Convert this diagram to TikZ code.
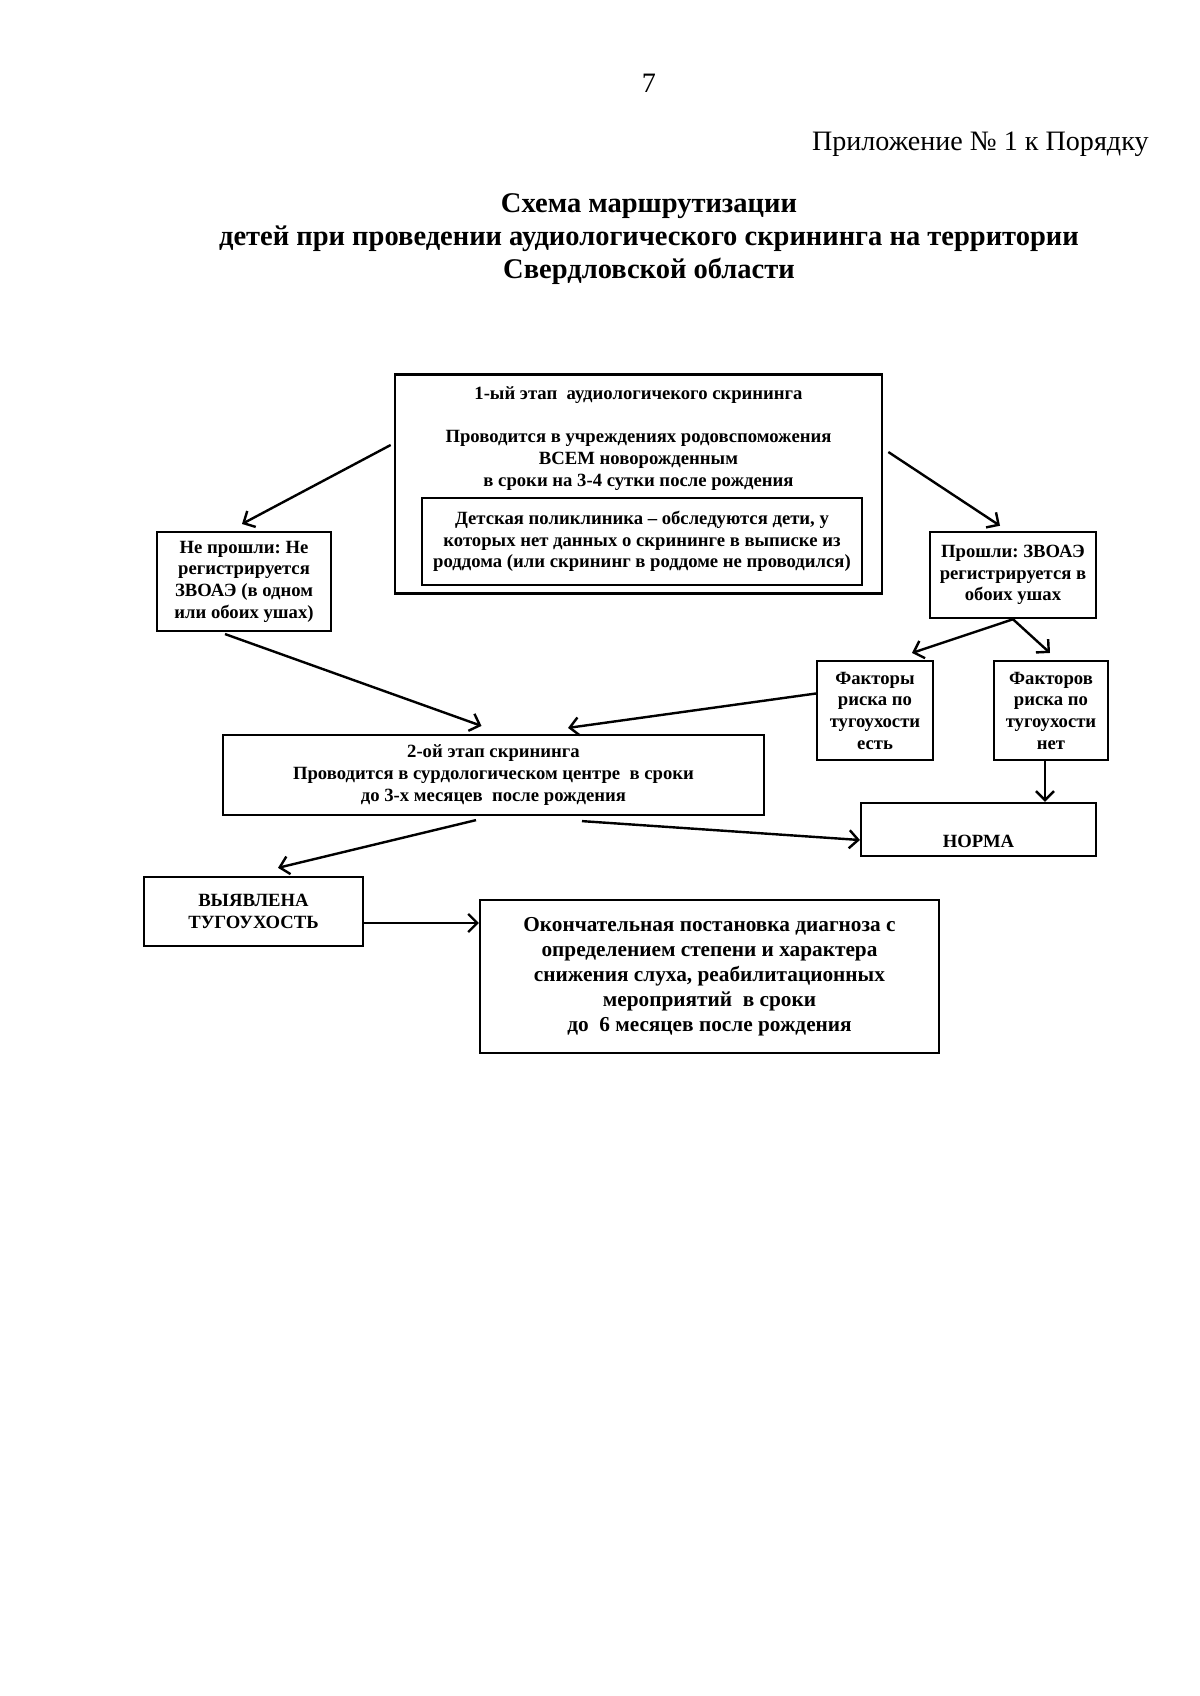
\documentclass[tikz,border=0pt]{standalone}
\usepackage{fontspec}
\setmainfont{Liberation Serif}
\usepackage{tikz}
\usetikzlibrary{positioning}
\usetikzlibrary{shapes.geometric, arrows, arrows.meta, calc}
\frenchspacing

\tikzset{
    box/.style={draw, line width=1.1pt, align=center, inner sep=2pt,
        font=\bfseries\fontsize{9.3}{10.8}\selectfont},
    arr/.style={-{Straight Barb[length=4.5pt, width=9pt]}, line width=1.2pt},
}

\begin{document}
\begin{tikzpicture}[x=0.175mm, y=-0.175mm]
    \useasboundingbox (0,0) rectangle (1200,1696);
    % header
    \node (page) at (649,83) {\fontsize{14}{16}\selectfont 7};
    \node[anchor=east, inner sep=0pt] (annex) at (1149,144) {\fontsize{14}{16}\selectfont Приложение № 1 к Порядку};
    \node[align=center, font=\bfseries\fontsize{14.2}{16.3}\selectfont] (title) at (649,239)
        {Схема маршрутизации\\детей при проведении аудиологического скрининга на территории\\Свердловской области};

    % first stage
    \node[box, line width=1.4pt, minimum width=85.2mm, minimum height=38.2mm] (stage1) at (638.5,484) {};
    \node[align=center, font=\bfseries\fontsize{9.3}{10.9}\selectfont] (stage1txt) at (638.5,438.5)
        {1-ый этап\ \ аудиологичекого скрининга\\[10.9pt]Проводится в учреждениях родовспоможения\\ВСЕМ новорожденным\\в сроки на 3-4 сутки после рождения};
    \node[box, line width=0.6pt, minimum width=77mm, minimum height=15.2mm] (clinic) at (642,541.5)
        {Детская поликлиника – обследуются дети, у\\которых нет данных о скрининге в выписке из\\роддома (или скрининг в роддоме не проводился)};

    \node[box, minimum width=30.5mm, minimum height=17.3mm] (fail) at (244,581.5)
        {Не прошли: Не\\регистрируется\\ЗВОАЭ (в одном\\или обоих ушах)};
    \node[box, minimum width=29.1mm, minimum height=15.1mm] (pass) at (1013,575)
        {Прошли: ЗВОАЭ\\регистрируется в\\обоих ушах};
    \node[box, minimum width=20.3mm, minimum height=17.3mm] (risk) at (875,710.5)
        {Факторы\\риска по\\тугоухости\\есть};
    \node[box, minimum width=20mm, minimum height=17.3mm] (norisk) at (1051,710.5)
        {Факторов\\риска по\\тугоухости\\нет};

    % second stage
    \node[box, minimum width=94.7mm, minimum height=14mm] (stage2) at (493.5,775)
        {2-ой этап скрининга\\Проводится в сурдологическом центре\ \ в сроки\\до 3-х месяцев\ \ после рождения};
    \node[box, minimum width=41.1mm, minimum height=9.3mm] (norma) at (978.5,829.5) {\strut\\НОРМА};
    \node[box, minimum width=38.3mm, minimum height=12.1mm] (detect) at (253.5,911.5)
        {ВЫЯВЛЕНА\\ТУГОУХОСТЬ};
    \node[box, font=\bfseries\fontsize{10.6}{12.4}\selectfont, minimum width=80.3mm, minimum height=26.8mm] (final) at (709.5,976.5)
        {Окончательная постановка диагноза с\\определением степени и характера\\снижения слуха, реабилитационных\\мероприятий\ \ в сроки\\до\ \ 6 месяцев после рождения};

    % arrows
    \draw[arr] ($(stage1.west)+(-3,-39)$) -- ($(fail.north)+(-2,-7)$);
    \draw[arr] ($(stage1.east)+(5,-32)$) -- ($(pass.north)+(-13,-5)$);
    \draw[arr] ($(fail.south)+(-19,2)$) -- ($(stage2.north)+(-12,-8)$);
    \draw[arr] ($(risk.west)+(0,-17)$) -- ($(stage2.north)+(74.5,-6)$);
    \draw[arr] (pass.south) -- ($(risk.north)+(37,-7)$);
    \draw[arr] (pass.south) -- ($(norisk.north)+(-1,-7)$);
    \coordinate (nodrop) at ($(norisk.south)+(-6,0)$);
    \draw[arr] (nodrop) -- (nodrop |- norma.north);
    \draw[arr] ($(stage2.south)+(88.5,5)$) -- ($(norma.west)+(0,10.5)$);
    \draw[arr] ($(stage2.south)+(-17.5,4)$) -- ($(detect.north)+(24.5,-8)$);
    \coordinate (detout) at ($(detect.east)+(0,11.5)$);
    \draw[arr] (detout) -- (detout -| final.west);
\end{tikzpicture}
\end{document}
